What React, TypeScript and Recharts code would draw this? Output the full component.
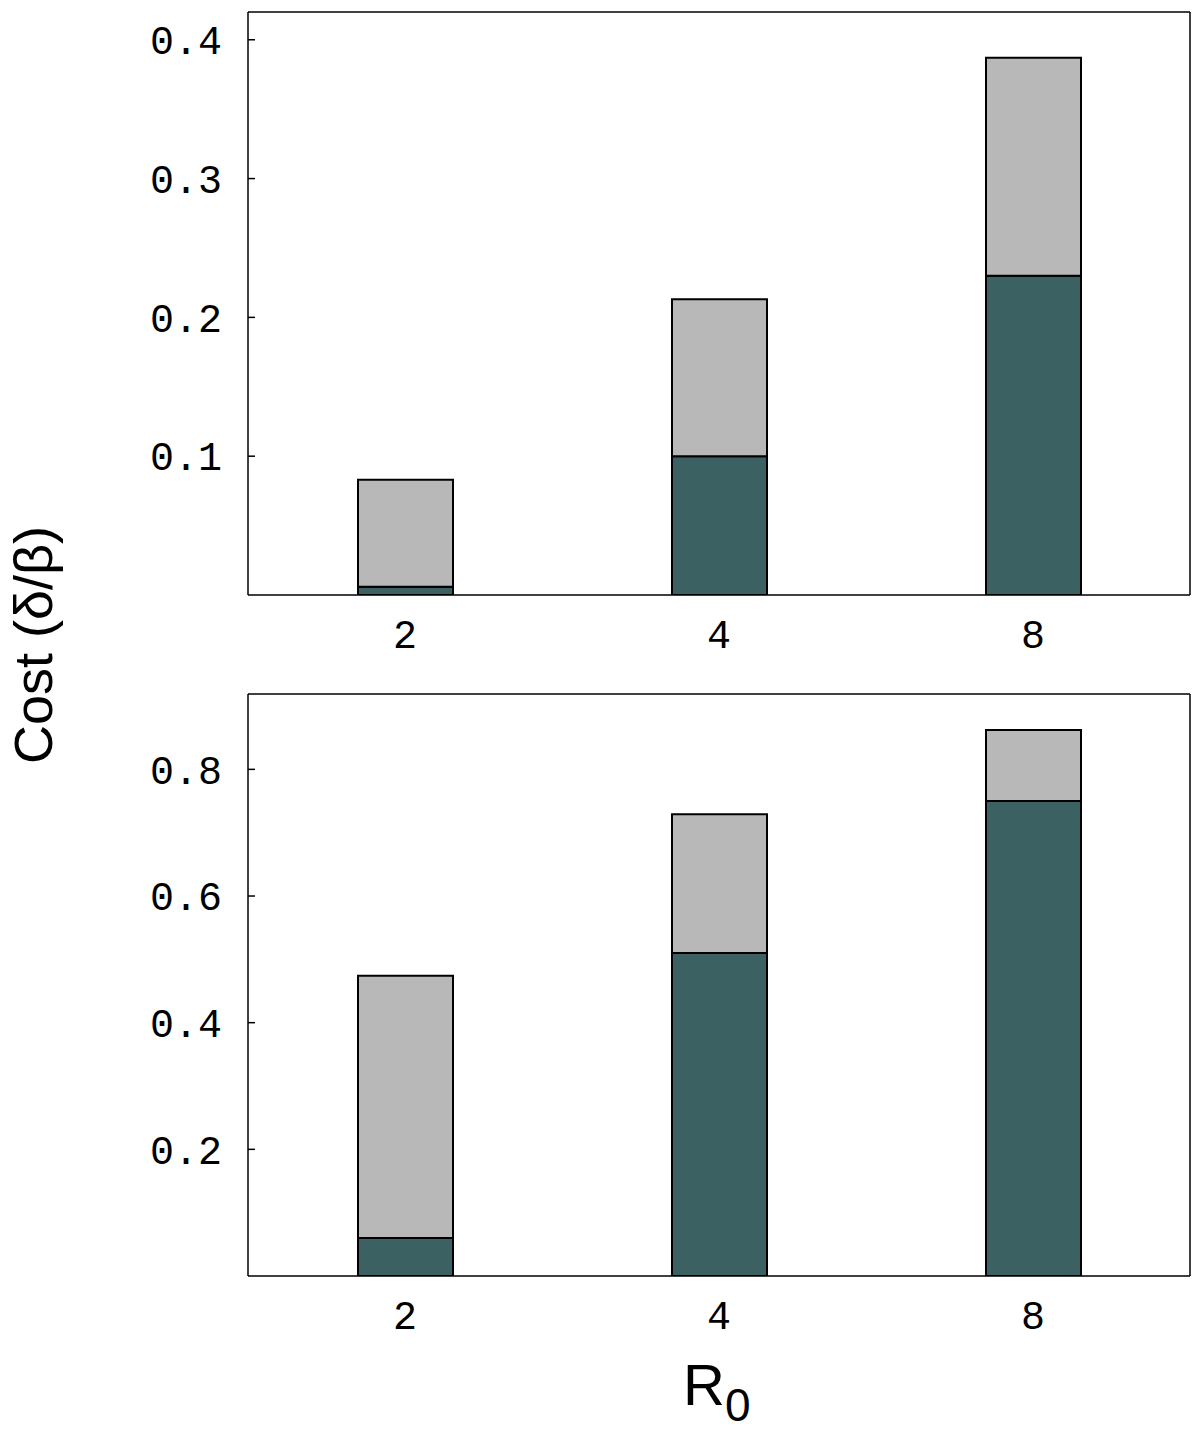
import React from 'react';
import { BarChart, Bar, XAxis, YAxis, ReferenceLine } from 'recharts';

const categories = ['2', '4', '8'];
const topDark = [0.006, 0.1, 0.23];
const topLight = [0.077, 0.113, 0.157];
const bottomDark = [0.06, 0.51, 0.75];
const bottomLight = [0.414, 0.219, 0.112];
const topTicks = [0.1, 0.2, 0.3, 0.4];
const bottomTicks = [0.2, 0.4, 0.6, 0.8];
const topMax = 0.42;
const bottomMax = 0.919;

const topData = categories.map((c, i) => ({ r: c, dark: topDark[i], light: topLight[i] }));
const bottomData = categories.map((c, i) => ({ r: c, dark: bottomDark[i], light: bottomLight[i] }));

const DARK = '#3c6162';
const LIGHT = '#b8b8b8';
const MONO = 'Liberation Mono, Courier New, monospace';
const SANS = 'Liberation Sans, Arial, Helvetica, sans-serif';

const tickStyle = { fontFamily: MONO, fontSize: 40, fill: '#000' };

function Panel({ data, ticks, max, height, top }: any) {
  return (
    <BarChart
      width={1200}
      height={height}
      data={data}
      margin={{ top, right: 0, left: 0, bottom: 0 }}
      barCategoryGap={0}
    >
      <XAxis
        dataKey="r"
        height={65}
        tickLine={false}
        tickSize={0}
        tickMargin={25}
        axisLine={{ stroke: '#000', strokeWidth: 1.5 }}
        tick={tickStyle}
      />
      <YAxis
        yAxisId="l"
        width={248}
        domain={[0, max]}
        ticks={ticks}
        tickSize={-7}
        tickMargin={33}
        tickFormatter={(v: number) => String(v)}
        tick={tickStyle}
        axisLine={{ stroke: '#000', strokeWidth: 1.5 }}
        tickLine={{ stroke: '#000', strokeWidth: 1.5 }}
        allowDataOverflow
      />
      <YAxis
        yAxisId="r"
        orientation="right"
        width={10}
        domain={[0, max]}
        ticks={ticks}
        tickSize={-7}
        tick={false}
        axisLine={{ stroke: '#000', strokeWidth: 1.5 }}
        tickLine={{ stroke: '#000', strokeWidth: 1.5 }}
        allowDataOverflow
      />
      <ReferenceLine yAxisId="l" y={max} stroke="#000" strokeWidth={1.5} />
      <Bar yAxisId="l" dataKey="dark" stackId="s" fill={DARK} stroke="#000" strokeWidth={2} barSize={95} isAnimationActive={false} />
      <Bar yAxisId="l" dataKey="light" stackId="s" fill={LIGHT} stroke="#000" strokeWidth={2} barSize={95} isAnimationActive={false} />
    </BarChart>
  );
}

export default function App() {
  return (
    <div style={{ position: 'absolute', left: 0, top: 0, width: 1200, height: 1433, background: '#fff' }}>
      <div style={{ position: 'absolute', left: 0, top: 0 }}>
        <Panel data={topData} ticks={topTicks} max={topMax} height={660} top={12} />
      </div>
      <div style={{ position: 'absolute', left: 0, top: 660 }}>
        <Panel data={bottomData} ticks={bottomTicks} max={bottomMax} height={681} top={34} />
      </div>
      <svg width={1200} height={1433} style={{ position: 'absolute', left: 0, top: 0, pointerEvents: 'none' }}>
        <text
          x={52}
          y={645}
          transform="rotate(-90 52 645)"
          textAnchor="middle"
          fontFamily={SANS}
          fontSize={54}
          fill="#000"
        >
          Cost (δ/β)
        </text>
        <text x={683} y={1405} fontFamily={SANS} fontSize={58} fill="#000">
          R<tspan dy={16} fontSize={46}>0</tspan>
        </text>
      </svg>
    </div>
  );
}
